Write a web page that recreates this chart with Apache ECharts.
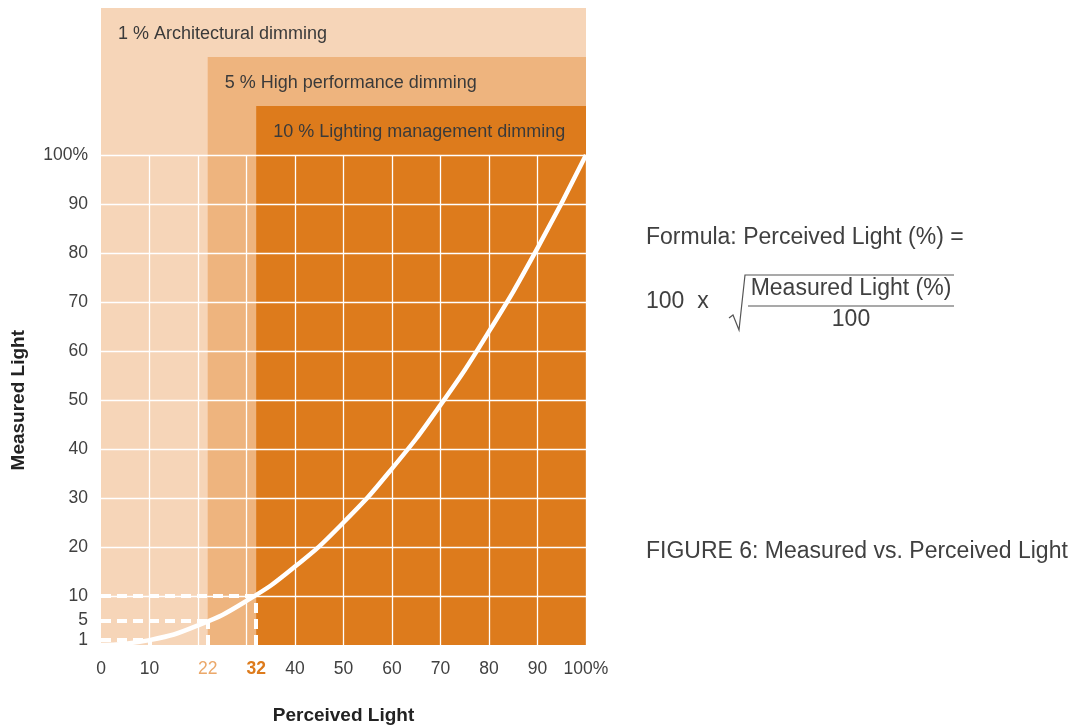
<!DOCTYPE html>
<html>
<head>
<meta charset="utf-8">
<script src="https://cdn.jsdelivr.net/npm/echarts@6/dist/echarts.min.js"></script>
<style>
html,body{margin:0;padding:0;background:#fff;}
#chart{width:1068px;height:726px;}
</style>
</head>
<body>
<div id="chart"></div>
<script>
// ---- data ----
const xTickLabels = [0, 10, 22, 32, 40, 50, 60, 70, 80, 90, 100];
const yTickLabels = [1, 5, 10, 20, 30, 40, 50, 60, 70, 80, 90, 100];
const gridValues = [10, 20, 30, 40, 50, 60, 70, 80, 90, 100];
const curveX = [0, 10, 20, 30, 40, 50, 60, 70, 80, 90, 100];
const curveY = [0, 1, 4, 9, 16, 25, 36, 49, 64, 81, 100];
const bandNames = ['1 % Architectural dimming', '5 % High performance dimming', '10 % Lighting management dimming'];
const bandStart = [0, 22, 32];
const bandTop = [130, 120, 110];
const guideX = [10, 22, 32];
const guideY = [1, 5, 10];

const bandColors = ['#F6D5B8', '#EEB47E', '#DD7B1C'];
const textColor = '#404040';
const FONT = '"Liberation Sans", Arial, sans-serif';

const chart = echarts.init(document.getElementById('chart'), null, {renderer: 'canvas'});

const bandData = bandNames.map((n, i) => [
  {name: n, coord: [bandStart[i], 0], itemStyle: {color: bandColors[i]}},
  {coord: [100, bandTop[i]]}
]);

const gridLines = [];
gridValues.forEach(v => {
  gridLines.push([{coord: [v, 0]}, {coord: [v, 100]}]);
  gridLines.push([{coord: [0, v]}, {coord: [100, v]}]);
});

const guideLines = [];
guideX.forEach((gx, i) => {
  guideLines.push([{coord: [0, guideY[i]]}, {coord: [gx, guideY[i]]}]);
  guideLines.push([{coord: [gx, 0]}, {coord: [gx, guideY[i]]}]);
});

const option = {
  animation: false,
  backgroundColor: '#fff',
  grid: {left: 101, right: 482, top: 8, bottom: 81, containLabel: false, outerBoundsMode: 'none'},
  xAxis: {
    type: 'value', min: 0, max: 100, interval: 10,
    name: 'Perceived Light', nameLocation: 'middle', nameGap: 61,
    nameTextStyle: {fontFamily: FONT, fontSize: 19, fontWeight: 'bold', color: '#222'},
    axisLine: {show: false}, axisTick: {show: false}, splitLine: {show: false},
    axisLabel: {
      customValues: xTickLabels,
      margin: 15,
      fontFamily: FONT, fontSize: 17.5, color: textColor,
      formatter: v => v === 22 ? '{a|22}' : v === 32 ? '{b|32}' : v === 100 ? '100%' : String(v),
      rich: {
        a: {color: '#EBA86A', fontFamily: FONT, fontSize: 17.5},
        b: {color: '#DD7B1C', fontFamily: FONT, fontSize: 17.5, fontWeight: 'bold'}
      }
    }
  },
  yAxis: {
    type: 'value', min: 0, max: 130, interval: 10,
    axisLine: {show: false}, axisTick: {show: false}, splitLine: {show: false},
    axisLabel: {
      customValues: yTickLabels,
      margin: 13,
      fontFamily: FONT, fontSize: 17.5, color: textColor,
      formatter: v => v === 100 ? '100%' : String(v)
    }
  },
  series: [
    {
      type: 'line', data: [], z: 1, silent: true,
      markArea: {
        silent: true,
        label: {
          show: true, position: [17, 17], fontFamily: FONT, fontSize: 18, color: '#3a3a3a',
          align: 'left', verticalAlign: 'top'
        },
        data: bandData
      }
    },
    {
      type: 'line', data: [], z: 2, silent: true,
      markLine: {
        silent: true, symbol: 'none', label: {show: false},
        lineStyle: {color: '#ffffff', width: 1.3, type: 'solid'},
        emphasis: {disabled: true},
        data: gridLines
      }
    },
    {
      type: 'line', data: [], z: 3, silent: true,
      markLine: {
        silent: true, symbol: 'none', label: {show: false},
        lineStyle: {color: '#ffffff', width: 4, type: [10, 6]},
        emphasis: {disabled: true},
        data: guideLines
      }
    },
    {
      type: 'line', z: 4, silent: true, smooth: true, showSymbol: false, symbol: 'none',
      lineStyle: {color: '#ffffff', width: 4.5},
      data: curveX.map((x, i) => [x, curveY[i]])
    }
  ],
  graphic: [
    {type: 'text', left: 9, top: 330, rotation: Math.PI / 2,
      style: {text: 'Measured Light', fontFamily: FONT, fontSize: 19, fontWeight: 'bold', fill: '#222'}},
    {type: 'text', x: 646, y: 238,
      style: {text: 'Formula: Perceived Light (%) =', fontFamily: FONT, fontSize: 23, fill: textColor, verticalAlign: 'middle'}},
    {type: 'text', x: 646, y: 302,
      style: {text: '100  x', fontFamily: FONT, fontSize: 23, fill: textColor, verticalAlign: 'middle'}},
    {type: 'polyline', shape: {points: [[729, 318], [733, 315], [739, 330], [745, 275], [954, 275]]},
      style: {stroke: '#555', lineWidth: 1.2, fill: null}},
    {type: 'line', shape: {x1: 748, y1: 306, x2: 954, y2: 306}, style: {stroke: '#555', lineWidth: 1.2}},
    {type: 'text', x: 851, y: 289,
      style: {text: 'Measured Light (%)', fontFamily: FONT, fontSize: 23, fill: textColor, align: 'center', verticalAlign: 'middle'}},
    {type: 'text', x: 851, y: 320,
      style: {text: '100', fontFamily: FONT, fontSize: 23, fill: textColor, align: 'center', verticalAlign: 'middle'}},
    {type: 'text', x: 646, y: 552,
      style: {text: 'FIGURE 6: Measured vs. Perceived Light', fontFamily: FONT, fontSize: 23, fill: textColor, verticalAlign: 'middle'}}
  ]
};
chart.setOption(option);
</script>
</body>
</html>
